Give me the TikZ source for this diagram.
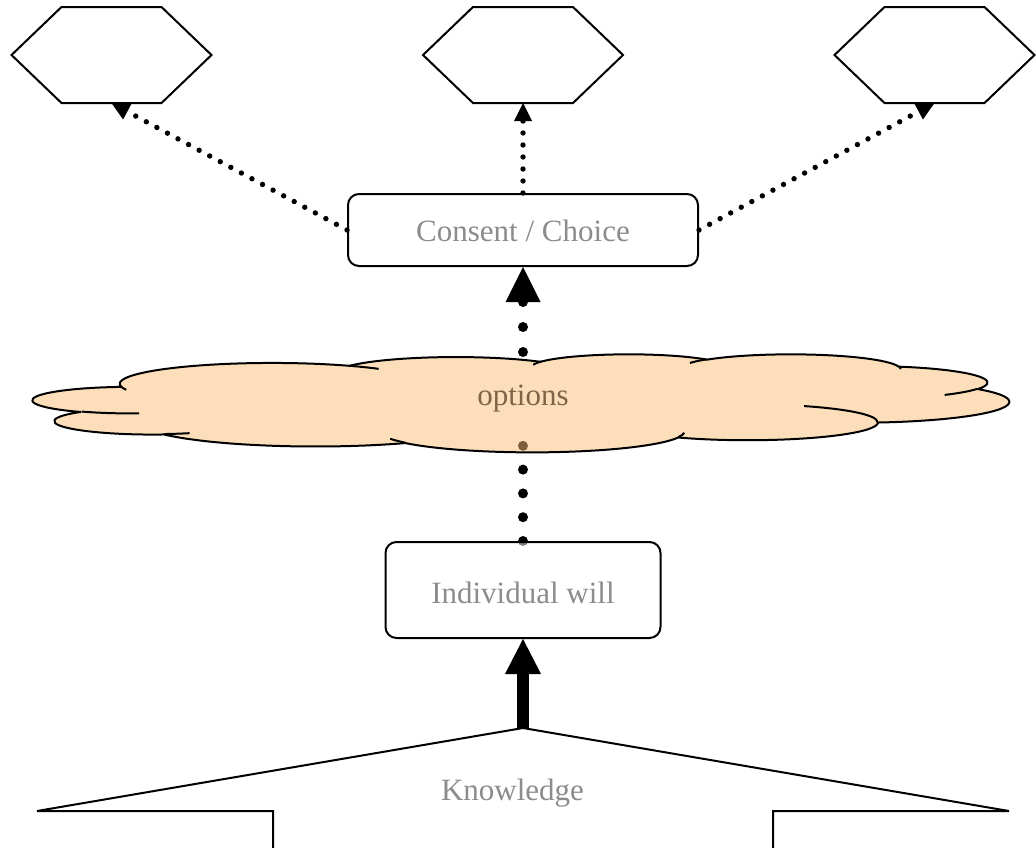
\documentclass[tikz,border=0pt]{standalone}
\usepackage{fontspec}
\setmainfont{Liberation Serif}
\usetikzlibrary{arrows.meta}

\pgfdeclarelayer{back}
\pgfdeclarelayer{front}
\pgfsetlayers{back,main,front}

\definecolor{cloudfill}{RGB}{250,190,120}
\definecolor{optbrown}{RGB}{128,100,72}

% elliptic arc given by view angles (start, sweep), as in preset shape geometry
\newcommand\ooarc[4]{arc[x radius=#1, y radius=#2,
  start angle={atan2((#1)*sin(#3),(#2)*cos(#3))},
  delta angle={mod(atan2((#1)*sin(#3+#4),(#2)*cos(#3+#4))-atan2((#1)*sin(#3),(#2)*cos(#3))+720,360)}]}

% hexagon outline around an (invisible) anchor node
\newcommand\hexoutline[1]{%
  \draw[outline, fill=white] (#1.west) -- ([xshift=50pt]#1.north west)
    -- ([xshift=-50pt]#1.north east) -- (#1.east)
    -- ([xshift=-50pt]#1.south east) -- ([xshift=50pt]#1.south west) -- cycle;}

\begin{document}
\begin{tikzpicture}[x=1pt,y=-1pt,
  outline/.style={draw=black, line width=2pt},
  labelfont/.style={font=\fontsize{31}{31}\selectfont},
  roundbox/.style={outline, rounded corners=11pt, inner sep=0pt, labelfont, text=black!45},
  hexbox/.style={minimum width=200pt, minimum height=96pt, inner sep=0pt, outer sep=0pt},
  bigdots/.style={line width=10pt, line cap=round, dash pattern=on 0pt off #1},
  smalldots/.style={line width=5.4pt, line cap=round, dash pattern=on 0pt off 12pt,
    -{Triangle[length=18pt,width=18pt,line width=0pt]}},
  cloudline/.style={draw=black, line width=2pt, line join=round}]

\useasboundingbox (0,0) rectangle (1036,847);

% anchors of the three hexagons
\node[hexbox] (hexL) at (111.5,55) {};
\node[hexbox] (hexM) at (523,55) {};
\node[hexbox] (hexR) at (934.5,55) {};

% points on the cloud and the roof
\coordinate (cloudtop) at (523,352);
\coordinate (cloudlow) at (523,445.5);
\coordinate (apex) at (523,728);

% knowledge roof
\draw[outline, fill=white, line join=miter] (37,811) -- (apex) -- (1009,811)
  -- (773,811) -- (773,870) -- (273,870) -- (273,811) -- cycle;
\node[labelfont, text=black!45, anchor=base] (know) at (512.5,800) {Knowledge};

% options cloud
\begin{scope}[shift={(33pt,-354pt)}, x=2.25926pt, y=-0.226852pt]
  \draw[cloudline, fill=cloudfill, fill opacity=0.5] (39.00,143.70)
    \ooarc{67.53}{91.90}{-190.4875}{123.7805}
    \ooarc{53.33}{72.67}{-144.1024}{89.9452}
    \ooarc{43.65}{59.45}{-145.8079}{99.7230}
    \ooarc{48.57}{65.95}{-130.9861}{117.2417}
    \ooarc{53.33}{72.73}{-78.7089}{109.0269}
    \ooarc{67.75}{92.20}{-46.2673}{130.2690}
    \ooarc{57.85}{78.67}{0.6250}{114.0333}
    \ooarc{67.52}{92.15}{22.4516}{115.1726}
    \ooarc{77.20}{105.43}{66.2426}{75.7110}
    \ooarc{43.60}{59.18}{-274.9421}{146.7356}
    \ooarc{43.45}{59.45}{-246.8285}{152.5195}
    -- cycle;
  \draw[cloudline]
    (46.93,261.77) \ooarc{43.45}{59.45}{86.7420}{26.4295}
    (69.28,348.99) \ooarc{43.60}{59.18}{73.6105}{11.4475}
    (164.78,390.90) \ooarc{67.52}{92.15}{137.6242}{14.0811}
    (288.27,347.51) \ooarc{67.52}{92.15}{6.4533}{15.9984}
    (341.29,229.54) \ooarc{57.85}{78.67}{-70.2924}{70.9174}
    (417.98,153.54) \ooarc{53.33}{72.73}{30.3180}{27.7515}
    (383.24,54.26) \ooarc{48.57}{65.95}{-13.7443}{14.8589}
    (290.78,39.52) \ooarc{48.57}{65.95}{-149.1815}{18.1954}
    (221.41,47.20) \ooarc{43.65}{59.45}{-163.4943}{17.6864}
    (140.00,51.92) \ooarc{67.53}{91.90}{-66.7070}{12.3194}
    (41.27,157.89) \ooarc{67.53}{91.90}{157.6544}{11.8582};
\end{scope}
\node[labelfont, text=optbrown, anchor=base] (opt) at (523,405) {options};

% boxes
\node[roundbox, minimum width=350pt, minimum height=72pt, fill=white,
  text height=22pt, text depth=0pt] (cc) at (523,230) {Consent / Choice};
\node[roundbox, minimum width=275pt, minimum height=96pt, fill=white,
  fill opacity=0.5, text opacity=1, draw opacity=1,
  text height=26pt, text depth=0pt] (iw) at (523,590) {Individual will};

% connectors below the boxes and the cloud
\begin{pgfonlayer}{back}
  \draw[line width=12pt, -{Triangle[length=35pt,width=36pt,line width=0pt]}] (apex) -- (iw.south);
  \draw[bigdots=23.8pt] (iw.north) -- (cloudlow);
  \draw[bigdots=25pt, -{Triangle[length=35pt,width=35pt,line width=0pt]}] (cloudtop) -- (cc.south);
\end{pgfonlayer}

% choices towards the hexagons
\draw[smalldots] (cc.west) -- (hexL.south);
\draw[smalldots] (cc.north) -- (hexM.south);
\draw[smalldots] (cc.east) -- (hexR.south);

\begin{pgfonlayer}{front}
  \hexoutline{hexL}
  \hexoutline{hexM}
  \hexoutline{hexR}
\end{pgfonlayer}
\end{tikzpicture}
\end{document}
